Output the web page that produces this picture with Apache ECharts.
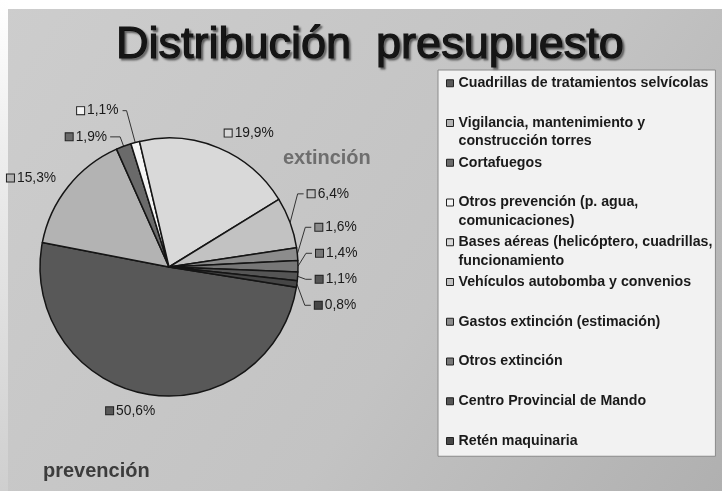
<!DOCTYPE html>
<html>
<head>
<meta charset="utf-8">
<script src="https://cdn.jsdelivr.net/npm/echarts@6/dist/echarts.min.js"></script>
<style>
  html, body { margin: 0; padding: 0; background: #ffffff; }
  #chart { width: 722px; height: 491px; }
</style>
</head>
<body>
<div id="chart"></div>
<script>
// ---- data ----
const chartTitle = 'Distribución  presupuesto';
const categories = [
  'Cuadrillas de tratamientos selvícolas',
  'Vigilancia, mantenimiento y\nconstrucción torres',
  'Cortafuegos',
  'Otros prevención (p. agua,\ncomunicaciones)',
  'Bases aéreas (helicóptero, cuadrillas,\nfuncionamiento',
  'Vehículos autobomba y convenios',
  'Gastos extinción (estimación)',
  'Otros extinción',
  'Centro Provincial de Mando',
  'Retén maquinaria'
];
const shares = [50.6, 15.3, 1.9, 1.1, 19.9, 6.4, 1.6, 1.4, 1.1, 0.8];
const groupNames = ['extinción', 'prevención'];

// ---- styles ----
const FONT = '"Liberation Sans", Arial, sans-serif';
const sliceColors = ['#585858', '#b3b3b3', '#6a6a6a', '#f4f4f4', '#d9d9d9',
                     '#c2c2c2', '#8c8c8c', '#777777', '#555555', '#464646'];
// label leader-line settings per slice (layout style only)
const lineShow = [false, false, true, true, false, true, true, true, true, true];
const lineLen  = [17, 14, 10, 33, 16, 8, 8, 8, 8, 8];
const lineLen2 = [9, 0, 10, 4, 0, 6, 6, 6, 6, 6];
const labelDist = [4, 1, 3, 4, 0, 4, 4, 4, 4, 4];
const alignMode = ['none', 'none', 'none', 'none', 'none',
                   'labelLine', 'labelLine', 'labelLine', 'labelLine', 'labelLine'];
const clusterIdx = [5, 6, 7, 8, 9];
const CLUSTER_SHIFT = -26;

const rich = { t: { fontSize: 13.8, fontFamily: FONT, color: '#1a1a1a', padding: [0, 0, 0, 3] } };
sliceColors.forEach(function (c, i) {
  rich['i' + i] = { width: 7, height: 7, backgroundColor: c, borderColor: '#222', borderWidth: 1 };
});

const chart = echarts.init(document.getElementById('chart'), null, { renderer: 'canvas' });

chart.setOption({
  animation: false,
  backgroundColor: {
    type: 'linear', x: 0, y: 0, x2: 1, y2: 1,
    colorStops: [{ offset: 0, color: '#cdcdcd' }, { offset: 0.6, color: '#c3c3c3' }, { offset: 1, color: '#b0b0b0' }]
  },
  graphic: [
    { type: 'rect', shape: { x: 0, y: 0, width: 722, height: 9 }, style: { fill: '#ffffff' }, z: 0 },
    { type: 'rect', shape: { x: 0, y: 0, width: 8, height: 491 },
      style: { fill: { type: 'linear', x: 0, y: 0, x2: 0, y2: 1,
        colorStops: [{ offset: 0, color: '#ffffff' }, { offset: 0.3, color: '#eeeeee' }, { offset: 1, color: '#cfcfcf' }] } }, z: 0 }
  ],
  title: [
    {
      text: chartTitle, left: 111, top: 18,
      textStyle: {
        fontFamily: FONT, fontSize: 45, fontWeight: 'normal', color: '#151515',
        textBorderColor: '#151515', textBorderWidth: 1.2,
        textShadowColor: 'rgba(0,0,0,0.45)', textShadowOffsetX: 2, textShadowOffsetY: 2, textShadowBlur: 2
      }
    },
    {
      text: groupNames[0], left: 278, top: 143,
      textStyle: { fontFamily: FONT, fontSize: 20, fontWeight: 'bold', color: '#6e6e6e' }
    },
    {
      text: groupNames[1], left: 38, top: 456,
      textStyle: { fontFamily: FONT, fontSize: 20, fontWeight: 'bold', color: '#3c3c3c' }
    }
  ],
  legend: {
    orient: 'vertical', left: 438, top: 70,
    padding: [4, 3, 6, 8],
    itemGap: 5, itemWidth: 7, itemHeight: 7,
    icon: 'rect',
    selectedMode: false,
    backgroundColor: '#f2f2f2', borderColor: '#8a8a8a', borderWidth: 1,
    itemStyle: { borderColor: '#222', borderWidth: 1 },
    data: categories,
    formatter: function (name) {
      const isLast = name === categories[categories.length - 1];
      return (name.indexOf('\n') < 0 && !isLast) ? name + '\n ' : name;
    },
    textStyle: {
      fontFamily: FONT, fontSize: 14.2, fontWeight: 'bold', color: '#1a1a1a',
      lineHeight: 18.5, height: 18.5, rich: { x: {} }
    }
  },
  series: [{
    type: 'pie',
    center: [169, 267],
    radius: 129,
    startAngle: 351,
    clockwise: true,
    avoidLabelOverlap: true,
    emphasis: { disabled: true },
    itemStyle: { borderColor: '#151515', borderWidth: 1.5 },
    label: {
      show: true, position: 'outside', bleedMargin: 0, lineHeight: 24,
      fontFamily: FONT, fontSize: 13.8, color: '#1a1a1a',
      formatter: function (p) {
        return '{i' + p.dataIndex + '|}{t|' + p.value.toFixed(1).replace('.', ',') + '%}';
      },
      rich: rich
    },
    labelLine: { lineStyle: { color: '#333333', width: 1 } },
    labelLayout: function (p) {
      if (clusterIdx.indexOf(p.dataIndex) >= 0 && p.labelLinePoints) {
        const pts = p.labelLinePoints;
        return {
          y: pts[2][1] + CLUSTER_SHIFT,
          labelLinePoints: [pts[0], [pts[1][0], pts[1][1] + CLUSTER_SHIFT], [pts[2][0], pts[2][1] + CLUSTER_SHIFT]]
        };
      }
      if (p.dataIndex === 0) return { align: 'center' };
      return {};
    },
    data: categories.map(function (name, i) {
      return {
        name: name, value: shares[i],
        itemStyle: { color: sliceColors[i] },
        label: { alignTo: alignMode[i], distanceToLabelLine: labelDist[i] },
        labelLine: { show: lineShow[i], length: lineLen[i], length2: lineLen2[i] }
      };
    })
  }]
});
</script>
</body>
</html>
